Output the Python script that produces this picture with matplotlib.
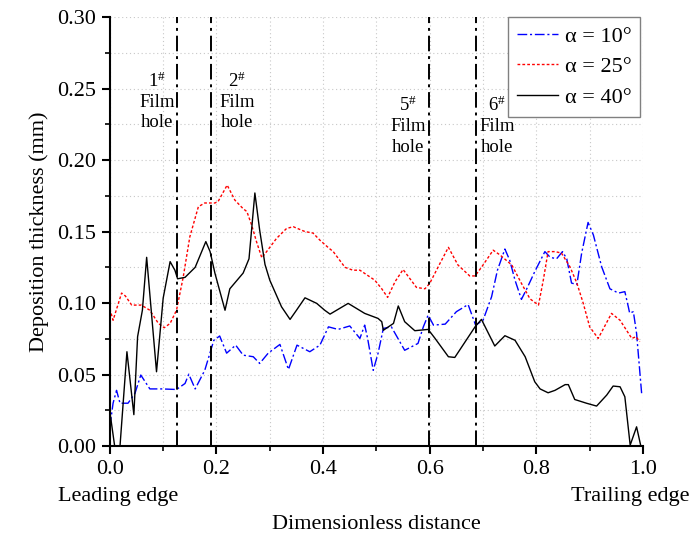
import numpy as np
import matplotlib
matplotlib.use("Agg")
import matplotlib.pyplot as plt
from matplotlib.ticker import MultipleLocator

plt.rcParams['font.family'] = ['Liberation Serif', 'DejaVu Serif']
plt.rcParams['mathtext.fontset'] = 'custom'
plt.rcParams['mathtext.rm'] = 'Liberation Serif'
plt.rcParams['mathtext.it'] = 'Liberation Serif:italic'

# alpha = 10 deg (blue, dash-dot)
x10 = [0.0, 0.006, 0.0125, 0.019, 0.034, 0.047, 0.058, 0.075, 0.097, 0.125, 0.141, 0.148,
       0.16, 0.178, 0.195, 0.206, 0.219, 0.236, 0.25, 0.269, 0.281, 0.297, 0.319, 0.335,
       0.351, 0.375, 0.394, 0.41, 0.428, 0.45, 0.469, 0.478, 0.4835, 0.494, 0.503, 0.513,
       0.528, 0.553, 0.578, 0.588, 0.597, 0.607, 0.629, 0.65, 0.672, 0.686, 0.70, 0.716,
       0.727, 0.741, 0.75, 0.76, 0.772, 0.782, 0.797, 0.816, 0.826, 0.838, 0.849, 0.857,
       0.866, 0.876, 0.885, 0.897, 0.907, 0.9225, 0.938, 0.954, 0.966, 0.9725, 0.975,
       0.982, 0.988, 0.9975]
y10 = [0.0135, 0.030, 0.039, 0.030, 0.030, 0.0368, 0.0497, 0.040, 0.040, 0.0396, 0.0438,
       0.0503, 0.040, 0.053, 0.074, 0.077, 0.065, 0.0706, 0.0636, 0.0625, 0.0578, 0.065,
       0.0711, 0.0536, 0.0706, 0.066, 0.0706, 0.0834, 0.0816, 0.084, 0.0753, 0.0846,
       0.0753, 0.053, 0.0648, 0.0823, 0.0834, 0.067, 0.0718, 0.0834, 0.0916, 0.0846,
       0.0853, 0.094, 0.099, 0.0846, 0.088, 0.1044, 0.123, 0.1378, 0.130, 0.116, 0.1026,
       0.110, 0.122, 0.136, 0.132, 0.131, 0.136, 0.131, 0.114, 0.113, 0.135, 0.1564,
       0.1476, 0.1254, 0.110, 0.107, 0.108, 0.0974, 0.093, 0.094, 0.0788, 0.0368]

# alpha = 25 deg (red, dotted)
x25 = [0.0, 0.006, 0.022, 0.029, 0.041, 0.059, 0.075, 0.091, 0.102, 0.113, 0.125, 0.1375,
       0.15, 0.166, 0.178, 0.197, 0.203, 0.22, 0.2345, 0.25, 0.257, 0.266, 0.275, 0.285,
       0.294, 0.3125, 0.3315, 0.344, 0.366, 0.381, 0.394, 0.41, 0.419, 0.441, 0.456,
       0.469, 0.497, 0.51, 0.521, 0.535, 0.55, 0.563, 0.575, 0.591, 0.60, 0.619, 0.635,
       0.653, 0.675, 0.685, 0.697, 0.719, 0.732, 0.754, 0.772, 0.788, 0.804, 0.813,
       0.822, 0.835, 0.847, 0.863, 0.876, 0.888, 0.90, 0.916, 0.941, 0.957, 0.979,
       0.987, 0.994]
y25 = [0.096, 0.088, 0.107, 0.105, 0.0986, 0.0986, 0.095, 0.0858, 0.0828, 0.0858, 0.095,
       0.118, 0.1464, 0.1674, 0.170, 0.170, 0.171, 0.1825, 0.172, 0.166, 0.164, 0.1545,
       0.143, 0.1317, 0.136, 0.1452, 0.1522, 0.1534, 0.150, 0.149, 0.144, 0.1387, 0.136,
       0.125, 0.123, 0.123, 0.116, 0.110, 0.104, 0.115, 0.1235, 0.117, 0.111, 0.110,
       0.1138, 0.1276, 0.139, 0.1266, 0.119, 0.119, 0.125, 0.137, 0.1336, 0.1266,
       0.1138, 0.103, 0.0986, 0.116, 0.136, 0.136, 0.135, 0.1254, 0.114, 0.0998, 0.0834,
       0.0753, 0.0928, 0.088, 0.0753, 0.0765, 0.073]

# alpha = 40 deg (black, solid)
x40 = [0.0, 0.009, 0.019, 0.032, 0.045, 0.052, 0.061, 0.069, 0.0875, 0.10, 0.113, 0.122,
       0.127, 0.141, 0.16, 0.18, 0.188, 0.197, 0.216, 0.225, 0.25, 0.261, 0.272, 0.281,
       0.291, 0.30, 0.322, 0.338, 0.35, 0.366, 0.388, 0.403, 0.413, 0.447, 0.478, 0.503,
       0.51, 0.513, 0.532, 0.541, 0.553, 0.572, 0.597, 0.61, 0.635, 0.647, 0.685, 0.697,
       0.722, 0.741, 0.76, 0.779, 0.797, 0.807, 0.822, 0.835, 0.854, 0.86, 0.872, 0.894,
       0.913, 0.932, 0.944, 0.957, 0.966, 0.976, 0.988, 0.996]
y40 = [0.024, 0.0, 0.0, 0.066, 0.022, 0.0765, 0.095, 0.132, 0.052, 0.1035, 0.129, 0.123,
       0.117, 0.118, 0.125, 0.143, 0.136, 0.121, 0.095, 0.110, 0.121, 0.131, 0.177, 0.151,
       0.127, 0.116, 0.0974, 0.0886, 0.095, 0.1037, 0.0998, 0.095, 0.0923, 0.0998, 0.0928,
       0.0893, 0.087, 0.081, 0.0858, 0.098, 0.087, 0.0807, 0.0816, 0.0753, 0.0625, 0.062,
       0.0834, 0.0886, 0.070, 0.0772, 0.074, 0.0625, 0.045, 0.040, 0.0373, 0.039, 0.043,
       0.043, 0.0326, 0.030, 0.028, 0.0357, 0.042, 0.0415, 0.0345, 0.0007, 0.0135, 0.0]

hole_x = [0.126, 0.19, 0.598, 0.687]
hole_labels = [r'1$^{\#}$', r'2$^{\#}$', r'5$^{\#}$', r'6$^{\#}$']
label_x = [0.088, 0.238, 0.559, 0.726]
label_y = [0.241, 0.241, 0.224, 0.224]

fig = plt.figure(figsize=(6.91, 5.33), dpi=100)
ax = fig.add_axes([0.159, 0.163, 0.7715, 0.805])

ax.plot(x10, y10, color='#0000ff', lw=1.0, ls=(0, (7, 2, 1.5, 2)), label=r'α = 10°')
ax.plot(x25, y25, color='#ff0000', lw=1.0, ls=(0, (2, 1.5)), label=r'α = 25°')
ax.plot(x40, y40, color='black', lw=1.0, ls='-', label=r'α = 40°')

for xv in hole_x:
    ax.axvline(xv, color='black', lw=1.4, ls=(0, (8, 2.5, 1.5, 2.5)))

for t, xl, yl in zip(hole_labels, label_x, label_y):
    ax.text(xl, yl, t + '\nFilm\nhole', ha='center', va='center', fontsize=13.5,
            linespacing=1.25)

ax.set_xlim(0, 1.0)
ax.set_ylim(0, 0.30)
ax.xaxis.set_major_locator(MultipleLocator(0.2))
ax.xaxis.set_minor_locator(MultipleLocator(0.1))
ax.yaxis.set_major_locator(MultipleLocator(0.05))
ax.yaxis.set_minor_locator(MultipleLocator(0.025))
ax.xaxis.set_major_formatter(plt.FormatStrFormatter('%.1f'))
ax.yaxis.set_major_formatter(plt.FormatStrFormatter('%.2f'))
ax.grid(True, which='both', color='#c8c8c8', ls=(0, (1, 2.5)), lw=0.8)
ax.set_axisbelow(True)

for s in ['top', 'right']:
    ax.spines[s].set_visible(False)
for s in ['left', 'bottom']:
    ax.spines[s].set_linewidth(1.5)
ax.tick_params(which='major', direction='out', length=6, width=1.5, labelsize=16, pad=4)
ax.tick_params(which='minor', direction='out', length=3.5, width=1.2)

ax.set_ylabel('Deposition thickness (mm)', fontsize=16, labelpad=6)
ax.set_xlabel('Dimensionless distance', fontsize=16, labelpad=26)
ax.text(-0.098, -0.118, 'Leading edge', transform=ax.transAxes, ha='left', va='center',
        fontsize=16)
ax.text(1.088, -0.118, 'Trailing edge', transform=ax.transAxes, ha='right', va='center',
        fontsize=16)

leg = ax.legend(loc='upper right', bbox_to_anchor=(0.995, 1.0), borderaxespad=0,
                fontsize=16, handlelength=1.85, fancybox=False, framealpha=1,
                edgecolor='#808080', borderpad=0.4, labelspacing=0.45, handletextpad=0.3)
leg.get_frame().set_linewidth(1.0)

fig.savefig('out.png', dpi=100)
